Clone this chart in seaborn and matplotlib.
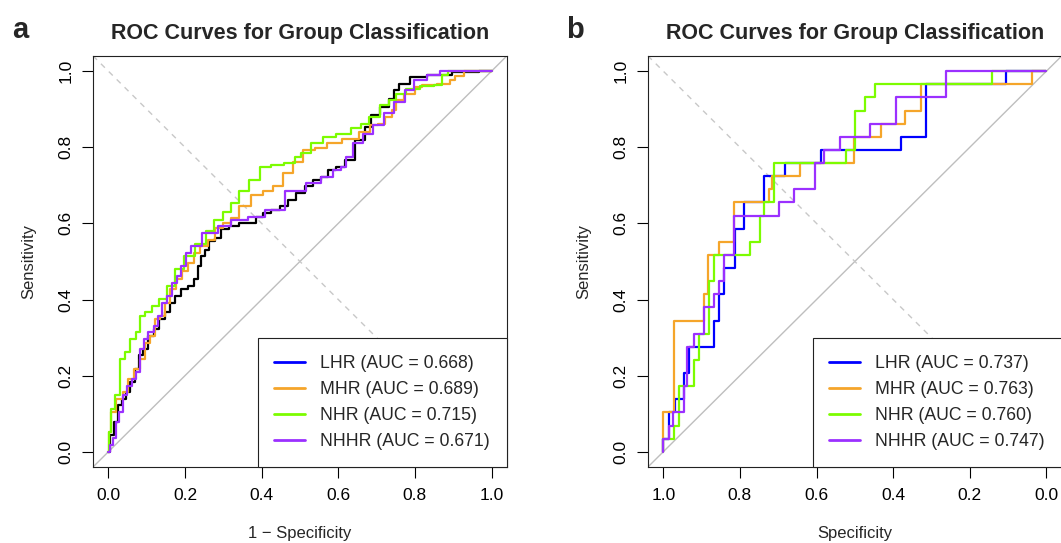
import numpy as np
import pandas as pd
import matplotlib
matplotlib.use("Agg")
import matplotlib.pyplot as plt
from matplotlib.lines import Line2D
import seaborn as sns

groups = ["LHR", "MHR", "NHR", "NHHR"]
colors = ["#0000FF", "#F5A52A", "#7CFC00", "#9B30FF"]
auc_a = [0.668, 0.689, 0.715, 0.671]
auc_b = [0.737, 0.763, 0.760, 0.747]

# ---- panel a: 1 - specificity vs sensitivity ----
lhr_a_fpr = [0, .007, .020, .029, .042, .051, .064, .077, .085, .098, .111, .125, .138,
             .155, .168, .181, .199, .216, .229, .238, .247, .255, .268, .286, .303, .329,
             .355, .382, .390, .416, .434, .460, .477, .503, .521, .547, .564, .582, .608,
             .626, .660, .678, .695, .721, .743, .747, .769, .804, .861, .935, 1.0]
lhr_a_tpr = [0, .044, .078, .122, .139, .157, .183, .218, .253, .270, .305, .322, .348,
             .366, .392, .409, .427, .436, .453, .488, .514, .531, .553, .562, .584, .592,
             .601, .601, .618, .627, .636, .645, .662, .679, .697, .714, .723, .740, .749,
             .767, .819, .854, .884, .906, .928, .950, .967, .984, .989, .997, 1.0]

mhr_a_fpr = [0, .003, .011, .029, .046, .059, .077, .090, .103, .116, .129, .142, .155,
             .168, .186, .199, .216, .229, .251, .268, .286, .312, .329, .355, .390, .416,
             .443, .469, .495, .521, .556, .583, .635, .674, .694, .713, .733, .747, .752,
             .791, .808, .830, .887, .895, .916, .939, 1.0]
mhr_a_tpr = [0, .052, .105, .139, .157, .192, .218, .244, .287, .305, .348, .357, .392,
             .427, .453, .475, .497, .523, .540, .557, .588, .601, .614, .645, .675, .684,
             .697, .732, .762, .793, .797, .810, .823, .840, .858, .862, .880, .897, .923,
             .941, .958, .963, .965, .976, .988, 1.0, 1.0]

nhr_a_fpr = [0, .005, .011, .024, .037, .051, .064, .081, .085, .107, .120, .142, .164,
             .183, .212, .242, .265, .286, .310, .329, .355, .381, .408, .440, .477, .495,
             .512, .547, .573, .617, .652, .669, .691, .726, .739, .765, .791, .835, .865,
             .875, .900, 1.0]
nhr_a_tpr = [0, .052, .113, .148, .244, .261, .296, .314, .357, .366, .383, .401, .436,
             .479, .515, .545, .580, .610, .630, .653, .685, .714, .749, .753, .758, .775,
             .784, .810, .827, .836, .850, .862, .880, .910, .923, .941, .954, .960, .963,
             .990, 1.0, 1.0]

nhhr_a_fpr = [0, .007, .016, .024, .033, .042, .055, .068, .077, .090, .098, .111, .125,
              .133, .146, .159, .172, .186, .194, .212, .220, .268, .303, .338, .390, .425,
              .495, .538, .573, .599, .617, .626, .652, .678, .704, .734, .756, .791, .804,
              .861, .870, 1.0]
nhhr_a_tpr = [0, .017, .035, .078, .105, .148, .174, .192, .209, .270, .296, .314, .331,
              .357, .392, .409, .444, .462, .488, .523, .540, .575, .592, .610, .618, .636,
              .684, .706, .723, .740, .749, .775, .810, .836, .858, .889, .919, .950, .976,
              .990, 1.0, 1.0]

# ---- panel b: smaller set, 29 positives -> sensitivity given as case counts ----
n_pos_b = 29
lhr_b_fpr = [0, 0, .015, .030, .054, .068, .132, .145, .158, .187, .211, .263, .317,
             .411, .620, .685, .894, 1.0]
lhr_b_k = [0, 1, 3, 4, 6, 8, 10, 12, 14, 17, 19, 21, 22, 23, 24, 28, 29, 29]

mhr_b_fpr = [0, 0, .028, .106, .117, .145, .185, .275, .285, .357, .498, .568, .631,
             .672, .962, 1.0]
mhr_b_k = [0, 3, 10, 12, 15, 16, 19, 20, 21, 22, 24, 25, 26, 28, 29, 29]

nhr_b_fpr = [0, 0, .028, .041, .080, .093, .119, .132, .226, .252, .263, .289, .476,
             .500, .527, .553, .857, 1.0]
nhr_b_k = [0, 1, 2, 5, 7, 9, 13, 15, 16, 18, 19, 22, 23, 26, 27, 28, 29, 29]

nhhr_b_fpr = [0, 0, .015, .026, .054, .062, .080, .106, .132, .145, .158, .185, .302,
              .341, .395, .420, .461, .540, .607, .737, 1.0]
nhhr_b_k = [0, 1, 2, 3, 5, 8, 9, 11, 12, 13, 15, 18, 19, 20, 22, 23, 24, 25, 27, 29, 29]

curves_a = [(lhr_a_fpr, lhr_a_tpr), (mhr_a_fpr, mhr_a_tpr),
            (nhr_a_fpr, nhr_a_tpr), (nhhr_a_fpr, nhhr_a_tpr)]
curves_b = [(lhr_b_fpr, lhr_b_k), (mhr_b_fpr, mhr_b_k),
            (nhr_b_fpr, nhr_b_k), (nhhr_b_fpr, nhhr_b_k)]

sns.set_theme(style="ticks")
plt.rcParams["font.family"] = ["Liberation Sans", "DejaVu Sans"]

fig = plt.figure(figsize=(10.61, 5.43), dpi=100)
ax_a = fig.add_axes([0.0877, 0.140, 0.390, 0.757])
ax_b = fig.add_axes([0.6107, 0.140, 0.390, 0.757])

ticks = [0, 0.2, 0.4, 0.6, 0.8, 1.0]
tick_labels = ["0.0", "0.2", "0.4", "0.6", "0.8", "1.0"]


def style_axes(ax, xlabel):
    ax.set_ylim(-0.04, 1.04)
    ax.set_xticks(ticks)
    ax.set_xticklabels(tick_labels)
    ax.set_yticks(ticks)
    ax.set_yticklabels(tick_labels)
    ax.tick_params(direction="out", length=8, width=0.8, colors="black",
                   labelsize=12.5, pad=7)
    ax.tick_params(axis="y", labelrotation=90, pad=6)
    for t in ax.get_yticklabels():
        t.set_va("center")
    for sp in ax.spines.values():
        sp.set_visible(True)
        sp.set_color("#222222")
        sp.set_linewidth(0.8)
    ax.set_xlabel(xlabel, fontsize=12, labelpad=17)
    ax.set_ylabel("Sensitivity", fontsize=12, labelpad=16)
    ax.set_title("ROC Curves for Group Classification", fontsize=15.5,
                 fontweight="bold", pad=12)


def add_legend(ax, aucs):
    handles = [Line2D([0], [0], color=c, lw=2) for c in colors]
    labels = [f"{g} (AUC = {a:.3f})" for g, a in zip(groups, aucs)]
    leg = ax.legend(handles, labels, loc="lower right", frameon=True, fancybox=False,
                    framealpha=1, edgecolor="#222222", borderaxespad=0, fontsize=12.7,
                    handlelength=1.75, handletextpad=0.85, labelspacing=0.52,
                    borderpad=0.95)
    leg.get_frame().set_linewidth(0.8)


# panel a
ax_a.set_xlim(-0.04, 1.04)
ax_a.axline((0, 0), (1, 1), color="#BEBEBE", lw=1)
ax_a.axline((0, 1), (1, 0), color="#C8C8C8", lw=1, ls=(0, (4, 4)))
line_cols_a = ["black"] + colors[1:]
for (fpr, tpr), c in zip(curves_a, line_cols_a):
    df = pd.DataFrame({"fpr": fpr, "tpr": tpr})
    sns.lineplot(data=df, x="fpr", y="tpr", estimator=None, sort=False,
                 drawstyle="steps-mid", color=c, lw=1.6, ax=ax_a)
style_axes(ax_a, "1 \u2212 Specificity")
add_legend(ax_a, auc_a)

# panel b (specificity axis runs from 1 to 0)
ax_b.set_xlim(1.04, -0.04)
ax_b.axline((1, 0), (0, 1), color="#BEBEBE", lw=1)
ax_b.axline((0, 0), (1, 1), color="#C8C8C8", lw=1, ls=(0, (4, 4)))
for (fpr, k), c in zip(curves_b, colors):
    df = pd.DataFrame({"spec": 1 - np.array(fpr), "sens": np.array(k) / n_pos_b})
    sns.lineplot(data=df, x="spec", y="sens", estimator=None, sort=False,
                 drawstyle="steps-post", color=c, lw=1.6, ax=ax_b)
style_axes(ax_b, "Specificity")
add_legend(ax_b, auc_b)

fig.text(0.011, 0.945, "a", fontsize=21, fontweight="bold", va="center")
fig.text(0.534, 0.945, "b", fontsize=21, fontweight="bold", va="center")

fig.savefig("out.png", dpi=100)
